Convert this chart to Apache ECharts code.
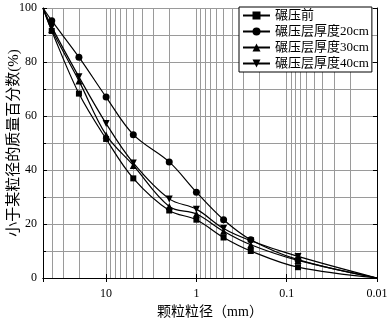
<!DOCTYPE html>
<html><head><meta charset="utf-8">
<script src="https://cdn.jsdelivr.net/npm/echarts@6/dist/echarts.min.js"></script>
<style>html,body{margin:0;padding:0;background:#fff}#c{width:392px;height:318px}</style>
</head><body><div id="c"></div>
<script>
var sizes = [50, 40, 20, 10, 5, 2, 1, 0.5, 0.25, 0.075, 0.01];
var seriesNames = ['碾压前', '碾压层厚度20cm', '碾压层厚度30cm', '碾压层厚度40cm'];
var before = [100, 91.5, 68.3, 51.5, 36.9, 25.0, 21.6, 15.0, 10.0, 4.0, 0];
var t20 = [100, 95.3, 81.8, 67.0, 53.1, 43.0, 31.8, 21.6, 14.2, 6.8, 0];
var t30 = [100, 92.0, 73.0, 53.0, 41.7, 26.5, 23.7, 17.3, 12.3, 6.5, 0];
var t40 = [100, 93.0, 74.5, 57.2, 42.6, 29.3, 25.5, 18.3, 13.8, 8.0, 0];
var minorX = [40, 30, 20, 9, 8, 7, 6, 5, 4, 3, 2, 0.9, 0.8, 0.7, 0.6, 0.5, 0.4, 0.3, 0.2, 0.09, 0.08, 0.07, 0.06, 0.05, 0.04, 0.03, 0.02];
var yTicks = [0, 20, 40, 60, 80, 100];

var FONT = '"Liberation Serif", "Noto Sans CJK SC", serif';
var GRID_C = '#9a9a9a';

function mkData(vals) {
  return sizes.map(function (s, i) {
    var d = { value: [s, vals[i]] };
    if (i === 0 || i === sizes.length - 1) d.symbol = 'none';
    return d;
  });
}
var symbols = ['rect', 'circle', 'triangle', 'triangle'];
var rotates = [0, 0, 0, 180];
var sizesSym = [6, 7, 7, 7];
var all = [before, t20, t30, t40];

var series = all.map(function (vals, k) {
  return {
    name: seriesNames[k], type: 'line', data: mkData(vals),
    smooth: 0.35, symbol: symbols[k], symbolRotate: rotates[k], symbolSize: sizesSym[k],
    lineStyle: { color: '#000', width: 1.2 }, itemStyle: { color: '#000' },
    z: 5
  };
});
series.push({
  type: 'line', data: [], silent: true, z: 1,
  markLine: {
    silent: true, symbol: ['none', 'none'], label: { show: false },
    lineStyle: { color: GRID_C, width: 1, type: 'solid' },
    emphasis: { disabled: true },
    data: minorX.map(function (v) { return { xAxis: v }; })
  }
});

var chart = echarts.init(document.getElementById('c'), null, { renderer: 'canvas' });
chart.setOption({
  animation: false,
  backgroundColor: '#fff',
  grid: { left: 43, right: 15, top: 8, bottom: 40, outerBoundsMode: 'none', containLabel: false },
  legend: {
    data: seriesNames.map(function (n) { return { name: n }; }),
    orient: 'vertical', left: 239, top: 7, z: 20, zlevel: 1,
    backgroundColor: '#fff', borderColor: '#000', borderWidth: 1,
    padding: [2, 3, 2, 3], itemWidth: 27, itemHeight: 10, itemGap: 3,
    textStyle: { fontFamily: FONT, fontSize: 13, color: '#000', padding: [0, 0, 0, 0] }
  },
  xAxis: [{
    type: 'log', logBase: 10, min: 0.01, max: 50, inverse: true,
    name: '颗粒粒径（mm）', nameLocation: 'middle', nameGap: 24,
    nameTextStyle: { fontFamily: FONT, fontSize: 14, color: '#000' },
    axisLine: { show: true, lineStyle: { color: '#000', width: 1 } },
    axisTick: { show: true, inside: true, length: 4, lineStyle: { color: '#000' } },
    axisLabel: {
      fontFamily: FONT, fontSize: 12, color: '#000', margin: 10,
      formatter: function (v) {
        var l = Math.log10(v);
        if (Math.abs(l - Math.round(l)) > 1e-6) return '';
        return String(+v.toPrecision(6));
      }
    },
    splitLine: { show: true, lineStyle: { color: GRID_C, width: 1 } }
  }, {
    type: 'log', logBase: 10, min: 0.01, max: 50, inverse: true, position: 'top',
    axisLine: { show: true, lineStyle: { color: '#000', width: 1 } },
    axisTick: { show: true, inside: true, length: 4, lineStyle: { color: '#000' } },
    axisLabel: { show: false }, splitLine: { show: false }
  }],
  yAxis: [{
    type: 'value', min: 0, max: 100, interval: 20,
    name: '小于某粒径的质量百分数(%)', nameLocation: 'middle', nameGap: 21, nameRotate: 90,
    nameMoveOverlap: false,
    nameTextStyle: { fontFamily: FONT, fontSize: 15, color: '#000' },
    axisLine: { show: true, lineStyle: { color: '#000', width: 1 } },
    axisTick: { show: true, inside: true, length: 4, lineStyle: { color: '#000' } },
    minorTick: { show: true, splitNumber: 2, length: 3, lineStyle: { color: '#000' } },
    axisLabel: { fontFamily: FONT, fontSize: 12, color: '#000', margin: 6,
      formatter: function (v) { return yTicks.indexOf(v) >= 0 ? String(v) : ''; } },
    splitLine: { show: true, lineStyle: { color: GRID_C, width: 1 } },
    minorSplitLine: { show: true, lineStyle: { color: GRID_C, width: 1 } }
  }, {
    type: 'value', min: 0, max: 100, interval: 20, position: 'right',
    axisLine: { show: true, lineStyle: { color: '#000', width: 1 } },
    axisTick: { show: true, inside: true, length: 4, lineStyle: { color: '#000' } },
    axisLabel: { show: false }, splitLine: { show: false }
  }],
  series: series
});
</script></body></html>
